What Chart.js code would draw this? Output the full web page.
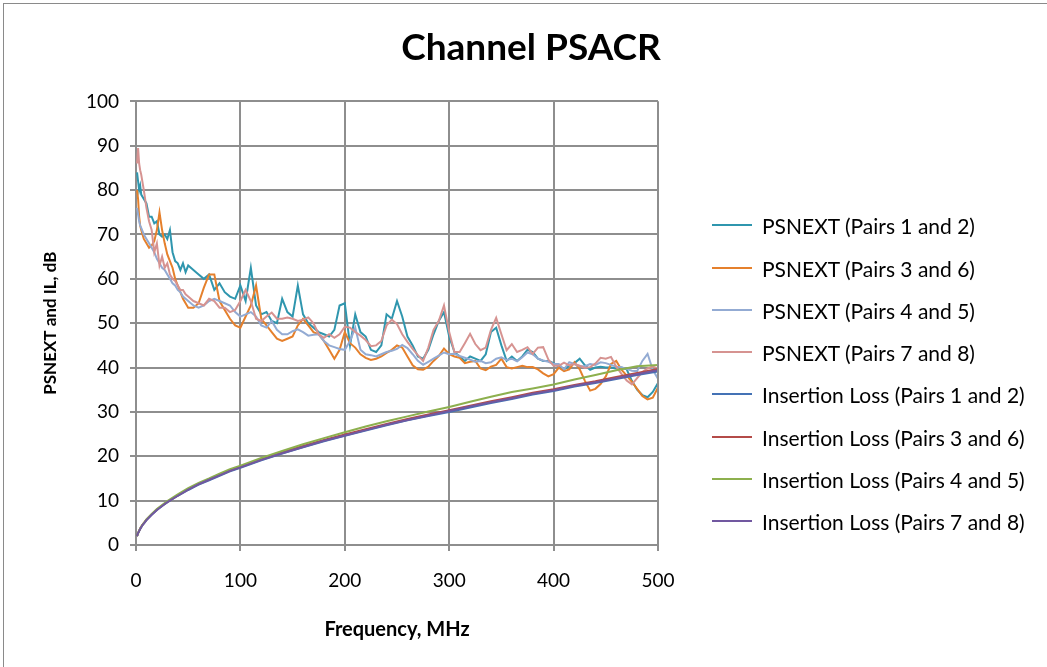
<!DOCTYPE html>
<html>
<head>
<meta charset="utf-8">
<title>Channel PSACR</title>
<script src="https://cdn.jsdelivr.net/npm/chart.js@4.4.1/dist/chart.umd.min.js"></script>
<style>
  html, body { margin: 0; padding: 0; background: #fff; }
  #wrap { position: relative; width: 1047px; height: 667px; overflow: hidden; }
  #frame { position: absolute; left: 3px; top: 3px; width: 1100px; height: 700px; border: 1px solid #8a8a8a; }
  #chart { position: absolute; left: 0; top: 0; }
  #legend { position: absolute; left: 712px; top: 0; font-family: Lato, sans-serif; font-size: 21px; color: #000; }
  .row { position: absolute; left: 0; height: 26px; display: flex; align-items: center; white-space: nowrap; }
  .swatch { width: 40px; height: 2px; margin-right: 10px; }
</style>
</head>
<body>
<div id="wrap">
  <div id="frame"></div>
  <canvas id="chart" width="1047" height="667"></canvas>
  <div id="legend"></div>
</div>
<script>
// frequency grid (MHz) for the PSNEXT traces
const psFreq = [
  1, 2, 3, 4, 5, 7.5, 10, 12.5, 15, 17.5,
  20, 22.5, 25, 27.5, 30, 32.5, 35, 37.5, 40, 42.5,
  45, 47.5, 50, 55, 60, 65, 70, 75, 80, 85,
  90, 95, 100, 105, 110, 115, 120, 125, 130, 135,
  140, 145, 150, 155, 160, 165, 170, 175, 180, 185,
  190, 195, 200, 205, 210, 215, 220, 225, 230, 235,
  240, 245, 250, 255, 260, 265, 270, 275, 280, 285,
  290, 295, 300, 305, 310, 315, 320, 325, 330, 335,
  340, 345, 350, 355, 360, 365, 370, 375, 380, 385,
  390, 395, 400, 405, 410, 415, 420, 425, 430, 435,
  440, 445, 450, 455, 460, 465, 470, 475, 480, 485,
  490, 495, 500
];

const psnext12 = [
  84, 82, 80, 81, 79, 78, 77, 74, 74, 72.5,
  73, 70, 69.5, 70, 69, 71, 66, 64, 63.5, 62,
  63.5, 61.5, 63, 62, 61, 60, 61, 57.5, 59, 57,
  56, 55.5, 58.5, 55, 62.5, 54, 52, 52.5, 50.5, 50,
  55.5, 52.5, 51.5, 58.5, 52, 50, 49, 48, 47.5, 47,
  48.5, 54, 54.5, 45, 52, 48, 47, 44, 43.5, 45,
  52, 51, 55, 51.5, 47, 45, 42.5, 42, 44, 47.5,
  50.5, 52.5, 47, 43.5, 42.5, 41.5, 42.5, 42, 41.5, 43,
  48, 49, 45, 41.5, 42.5, 41.5, 42.5, 44, 43.5, 42,
  41.5, 41.5, 41, 40.2, 39.6, 40.4, 41, 42, 40.5, 39.5,
  40, 40.2, 40, 40, 39.8, 40, 39.6, 37, 35, 33.8,
  33.3, 34.5, 36.5
];

const psnext36 = [
  80, 78, 74, 72, 71, 69, 68, 67, 67.5, 68.5,
  71, 75, 71, 68, 65.5, 64, 62.5, 60, 58.5, 57,
  55.5, 54.5, 53.5, 53.5, 54.5, 58, 61, 61, 55, 53,
  51, 49.5, 49, 51.5, 54, 58.5, 51, 49.5, 48, 46.5,
  46, 46.5, 47, 49.5, 51, 49.5, 48, 47.5, 46, 44,
  42, 44, 48, 45.5, 44.5, 43, 42.2, 41.7, 42, 42.5,
  43.3, 44, 45, 44.5, 42.5, 40.5, 39.6, 39.5, 40.2, 41.5,
  42.6, 44.3, 43, 42.5, 42.2, 41, 41.3, 41.5, 39.8, 39.4,
  40.2, 40.6, 42, 40.1, 39.8, 40.1, 40.4, 40.1, 40.1, 39.6,
  38.7, 38, 38.5, 40, 39.2, 39.6, 41.2, 39.6, 37, 34.8,
  35.2, 36.3, 38, 40.8, 41.5, 39.5, 38.2, 36.8, 35.2, 33.6,
  32.8, 33.2, 35.5
];

const psnext45 = [
  76, 74.5, 73, 72, 71.5, 70, 69, 68, 67, 66,
  64.5, 63.5, 62.5, 62, 61, 60, 59, 58.5, 57.5, 57,
  56, 55.5, 55, 54, 53.5, 54, 55, 55.5, 55, 54.5,
  54, 52.5, 51.5, 52, 52.5, 51.5, 49.5, 49, 50.5, 48.5,
  47.5, 47.5, 48.2, 48.6, 48, 47.2, 47.4, 47.5, 46, 45,
  44.6, 44.2, 44, 46, 49, 44, 43, 42.8, 42.5, 43,
  43.5, 43.8, 44.2, 45.1, 44.4, 43, 41.5, 40.6, 41.3, 42,
  42.7, 43.4, 43, 43.1, 42.6, 42.2, 41.8, 41.3, 41.5, 41,
  41.2, 42, 42.3, 41.7, 42, 41.4, 42.3, 43.4, 43, 42,
  41.6, 41.3, 40.8, 40.8, 39.6, 41.2, 40.8, 40.3, 40.3, 40.8,
  40.6, 41.2, 41, 40.6, 40.2, 40.1, 39.7, 39.3, 39.2, 41.5,
  43.1, 39.5, 37.5
];

const psnext78 = [
  86, 89.5, 86, 84.5, 83.5, 80, 76, 73, 71, 66,
  68, 63, 65, 62.5, 63.5, 61, 60, 59.5, 58.5, 57.5,
  57.5, 56.5, 56, 55, 54.5, 54, 55.5, 55, 53.5, 53.5,
  52.5, 53, 55, 57.5, 55, 51, 50.5, 51.5, 52.4, 51,
  51, 51.3, 51, 50.5, 50.8, 51.3, 50, 47.5, 46.7, 47.5,
  46.7, 47.5, 49.2, 49, 48, 47.2, 46.2, 44.8, 45, 46,
  49.5, 50.8, 49.8, 47.5, 45.8, 44.2, 42.8, 41.5, 44.5, 48.5,
  50.5, 54, 48, 43.5, 43.5, 45.5, 47.6, 45.3, 43.9, 44.5,
  48.5, 51.2, 47.5, 43.9, 45.3, 43.5, 44, 44.6, 43.1, 44.5,
  44.6, 41.8, 40.4, 40.4, 41.1, 40.5, 40.8, 40.4, 39.9, 40.1,
  40.9, 42.2, 42, 42.4, 40.2, 38.6, 37.1, 36.2, 37.6, 39,
  39.8, 40.2, 39.8
];

// frequency grid (MHz) for the insertion loss traces
const ilFreq = [1, 2, 4, 6, 8, 10, 15, 20, 25, 30, 40, 50, 60, 70, 80, 90, 100,
  120, 140, 160, 180, 200, 220, 240, 260, 280, 300, 320, 340, 360, 380, 400,
  420, 440, 460, 480, 500];

const il12 = [2.0, 2.7, 3.6, 4.4, 5.0, 5.6, 6.8, 7.9, 8.8, 9.6, 11.1, 12.4, 13.6, 14.6, 15.6, 16.6, 17.4,
  19.1, 20.6, 22.0, 23.4, 24.6, 25.8, 27.0, 28.1, 29.1, 30.0, 31.0, 32.0, 32.9, 33.9, 34.7,
  35.7, 36.5, 37.4, 38.3, 39.1];
const il36 = [2.0, 2.7, 3.7, 4.5, 5.1, 5.7, 6.9, 8.0, 8.9, 9.7, 11.2, 12.6, 13.8, 14.8, 15.8, 16.8, 17.6,
  19.3, 20.9, 22.3, 23.7, 24.9, 26.1, 27.3, 28.4, 29.4, 30.4, 31.4, 32.4, 33.3, 34.3, 35.1,
  36.1, 36.9, 37.9, 38.8, 39.7];
const il45 = [2.0, 2.7, 3.7, 4.5, 5.1, 5.8, 7.0, 8.1, 9.0, 9.9, 11.4, 12.8, 14.0, 15.0, 16.1, 17.1, 17.9,
  19.6, 21.2, 22.7, 24.1, 25.4, 26.7, 27.9, 29.0, 30.1, 31.1, 32.3, 33.4, 34.5, 35.3, 36.2,
  37.3, 38.3, 39.4, 40.3, 40.6];
const il78 = [2.0, 2.7, 3.6, 4.4, 5.0, 5.6, 6.8, 7.9, 8.8, 9.7, 11.1, 12.5, 13.7, 14.7, 15.7, 16.7, 17.5,
  19.2, 20.7, 22.1, 23.5, 24.7, 25.9, 27.1, 28.2, 29.2, 30.2, 31.2, 32.2, 33.1, 34.1, 34.9,
  35.9, 36.7, 37.6, 38.5, 39.4];

const seriesNames = [
  'PSNEXT (Pairs 1 and 2)', 'PSNEXT (Pairs 3 and 6)', 'PSNEXT (Pairs 4 and 5)', 'PSNEXT (Pairs 7 and 8)',
  'Insertion Loss (Pairs 1 and 2)', 'Insertion Loss (Pairs 3 and 6)', 'Insertion Loss (Pairs 4 and 5)', 'Insertion Loss (Pairs 7 and 8)'
];
const seriesColors = ['#2f96ae', '#e5802c', '#93abd3', '#d69391', '#4472b5', '#b44b48', '#8db04e', '#7158a0'];

const xTicks = [0, 100, 200, 300, 400, 500];
const yTicks = [0, 10, 20, 30, 40, 50, 60, 70, 80, 90, 100];

function pts(xs, ys) {
  return xs.map((x, i) => ({ x: x, y: ys[i] }));
}

const traces = [
  pts(psFreq, psnext12), pts(psFreq, psnext36), pts(psFreq, psnext45), pts(psFreq, psnext78),
  pts(ilFreq, il12), pts(ilFreq, il36), pts(ilFreq, il45), pts(ilFreq, il78)
];

const datasets = traces.map((d, i) => ({
  label: seriesNames[i],
  data: d,
  borderColor: seriesColors[i],
  backgroundColor: seriesColors[i],
  borderWidth: 2,
  pointRadius: 0,
  tension: 0,
  fill: false,
  order: 8 - i   // later series on top, like the original
}));

const gridColor = '#8e8e8e';
const ctx = document.getElementById('chart').getContext('2d');

new Chart(ctx, {
  type: 'line',
  data: { datasets: datasets },
  options: {
    responsive: false,
    animation: false,
    layout: { padding: { left: 15, right: 0, top: 0, bottom: 0 } },
    plugins: {
      legend: { display: false },
      tooltip: { enabled: false },
      title: {
        display: true,
        text: 'Channel PSACR',
        color: '#000',
        font: { family: 'Lato', size: 37, weight: 'bold' },
        padding: { top: 26, bottom: 31 }
      }
    },
    scales: {
      x: {
        type: 'linear',
        min: 0, max: 500,
        afterBuildTicks: s => { s.ticks = xTicks.map(v => ({ value: v })); },
        afterFit: s => { s.height = 122; },
        grid: { color: gridColor, lineWidth: 2, tickLength: 6 },
        border: { color: gridColor, width: 2 },
        ticks: { color: '#000', font: { family: 'Lato', size: 19 }, padding: 18, maxRotation: 0 },
        title: {
          display: true, text: 'Frequency, MHz', color: '#000',
          font: { family: 'Lato', size: 20, weight: 'bold' },
          padding: { top: 0, bottom: 25 }
        }
      },
      y: {
        min: 0, max: 100,
        afterBuildTicks: s => { s.ticks = yTicks.map(v => ({ value: v })); },
        afterFit: s => { s.width = 121; },
        grid: { color: gridColor, lineWidth: 2, tickLength: 6 },
        border: { color: gridColor, width: 2 },
        ticks: { color: '#000', font: { family: 'Lato', size: 19 }, padding: 11 },
        title: {
          display: true, text: 'PSNEXT and IL, dB', color: '#000',
          font: { family: 'Lato', size: 17, weight: 'bold' },
          padding: { top: 25, bottom: 0 }
        }
      },
      // empty right-hand box that reserves room for the legend
      yRight: {
        position: 'right',
        display: true,
        afterFit: s => { s.width = 389; },
        grid: { display: false, drawTicks: false },
        border: { display: false },
        ticks: { display: false }
      }
    }
  },
  plugins: [{
    // right edge of the plot area is framed like the other gridlines
    id: 'plotFrame',
    afterDraw(chart) {
      const a = chart.chartArea, c = chart.ctx;
      c.save();
      c.strokeStyle = gridColor;
      c.lineWidth = 2;
      c.beginPath();
      c.moveTo(a.right, a.top);
      c.lineTo(a.right, a.bottom);
      c.stroke();
      c.restore();
    }
  }]
});

// legend rows
const legendRowsY = [225, 268, 310, 352, 394, 437, 479, 521];
const legend = document.getElementById('legend');
seriesNames.forEach((name, i) => {
  const row = document.createElement('div');
  row.className = 'row';
  row.style.top = (legendRowsY[i] - 13) + 'px';
  const sw = document.createElement('span');
  sw.className = 'swatch';
  sw.style.background = seriesColors[i];
  const txt = document.createElement('span');
  txt.textContent = name;
  row.appendChild(sw);
  row.appendChild(txt);
  legend.appendChild(row);
});
</script>
</body>
</html>
